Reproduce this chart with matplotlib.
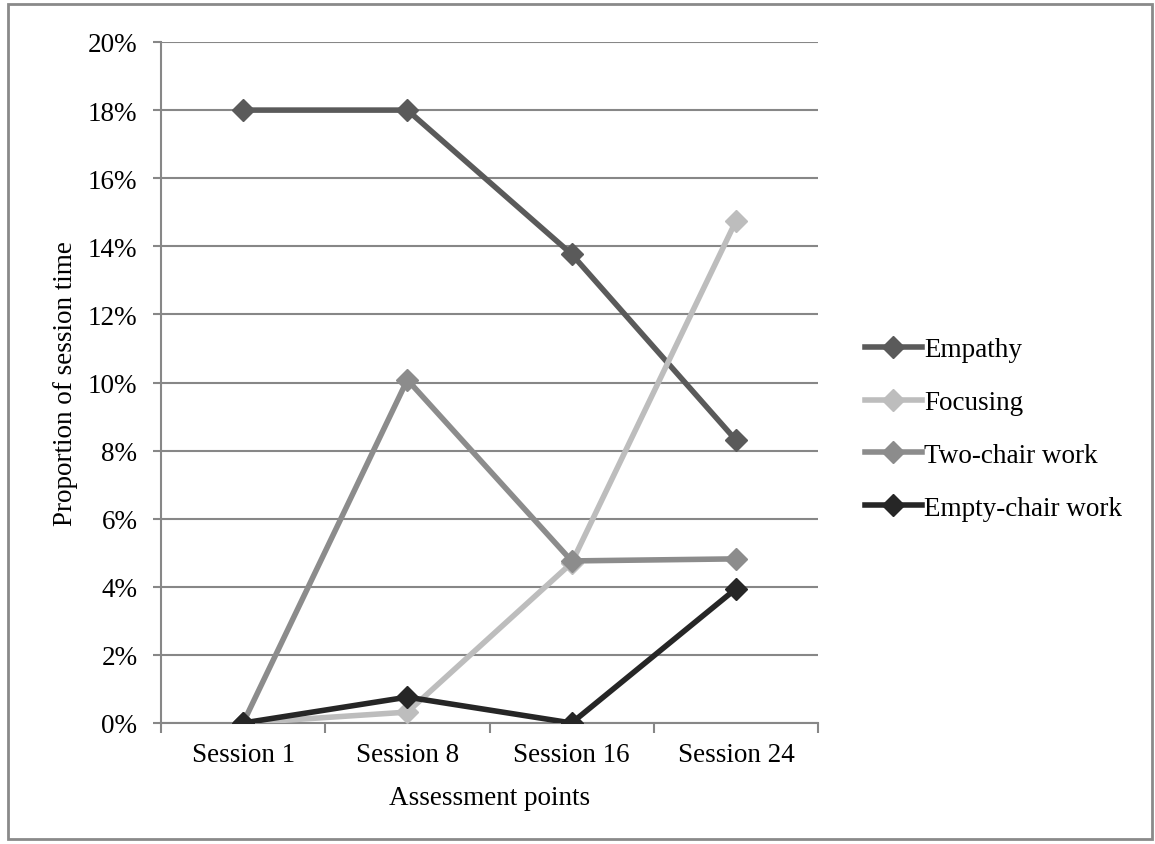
import matplotlib
matplotlib.use("Agg")
import matplotlib.pyplot as plt
from matplotlib.patches import Rectangle
from matplotlib.ticker import FixedLocator

categories = ["Session 1", "Session 8", "Session 16", "Session 24"]
empathy = [18.0, 18.0, 13.77, 8.31]
focusing = [0.0, 0.32, 4.70, 14.74]
two_chair = [0.0, 10.08, 4.76, 4.82]
empty_chair = [0.0, 0.76, 0.0, 3.94]
series_names = ["Empathy", "Focusing", "Two-chair work", "Empty-chair work"]
series_colors = ["#5a5a5a", "#bdbdbd", "#8c8c8c", "#262626"]
yticks = [0, 2, 4, 6, 8, 10, 12, 14, 16, 18, 20]

plt.rcParams['font.family'] = ['Liberation Serif', 'DejaVu Serif']
FS = 19.5

fig = plt.figure(figsize=(11.55, 8.45), dpi=100)
ax = fig.add_axes([161/1155, 121/845, (818-161)/1155, (724-43)/845])

fig.patches.append(Rectangle((8/1155, 5/845), 1144/1155, 835/845, transform=fig.transFigure,
                             fill=False, edgecolor="#8a8a8a", linewidth=2))

x = list(range(len(categories)))
for vals, name, col in zip([empathy, focusing, two_chair, empty_chair], series_names, series_colors):
    ax.plot(x, vals, color=col, linewidth=4.0, marker="D", markersize=11.5,
            markerfacecolor=col, markeredgecolor=col, label=name, zorder=3)

ax.set_xlim(-0.5, len(categories) - 0.5)
ax.set_ylim(0, 20)
ax.set_yticks(yticks)
ax.set_yticklabels([f"{t}%" for t in yticks], fontsize=FS)
ax.yaxis.grid(True, color="#878787", linewidth=1.5)
ax.set_axisbelow(True)

ax.set_xticks(x)
ax.set_xticklabels(categories, fontsize=FS)
ax.tick_params(axis="x", length=0, pad=14)
ax.xaxis.set_minor_locator(FixedLocator([-0.5, 0.5, 1.5, 2.5, 3.5]))
ax.tick_params(axis="x", which="minor", length=7, width=1.5, color="#878787")
ax.tick_params(axis="y", length=6, width=1.5, color="#878787", pad=11)

for s in ["top", "right"]:
    ax.spines[s].set_visible(False)
for s in ["left", "bottom"]:
    ax.spines[s].set_color("#878787")
    ax.spines[s].set_linewidth(1.5)

ax.set_ylabel("Proportion of session time", fontsize=FS, labelpad=7)
ax.set_xlabel("Assessment points", fontsize=FS, labelpad=13)

leg = fig.legend(*ax.get_legend_handles_labels(), loc="center left",
                 bbox_to_anchor=(865/1155, 1 - 430/845), frameon=False, fontsize=FS,
                 handlelength=2.1, handletextpad=0.08, labelspacing=1.03,
                 borderpad=0, borderaxespad=0)

fig.savefig("out.png", dpi=100)
